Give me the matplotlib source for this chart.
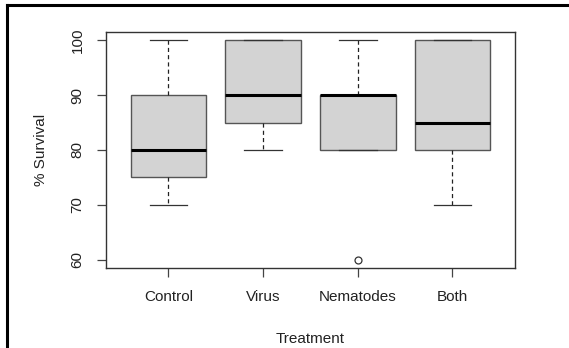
import matplotlib
matplotlib.use("Agg")
import matplotlib.pyplot as plt
from matplotlib.lines import Line2D

plt.rcParams['font.family'] = ['Liberation Sans', 'DejaVu Sans']

# box statistics
groups = ['Control', 'Virus', 'Nematodes', 'Both']
whislo = [70, 80, 80, 70]
q1 = [75, 85, 80, 80]
med = [80, 90, 90, 85]
q3 = [90, 100, 90, 100]
whishi = [100, 100, 100, 100]
fliers = [[], [], [60], []]
yticks = [60, 70, 80, 90, 100]

stats = []
for i in range(len(groups)):
    stats.append(dict(label=groups[i], whislo=whislo[i], q1=q1[i], med=med[i],
                      q3=q3[i], whishi=whishi[i], fliers=fliers[i]))

fig = plt.figure(figsize=(5.69, 3.48), dpi=100)
ax = fig.add_axes([0.1863, 0.229, 0.7187, 0.680])

ax.bxp(stats, positions=range(1, 5), widths=0.8, patch_artist=True,
       boxprops=dict(facecolor='#d3d3d3', edgecolor='#555555', linewidth=1.0),
       medianprops=dict(color='black', linewidth=2.2, solid_capstyle='butt'),
       whiskerprops=dict(color='#222222', linewidth=0.9, linestyle=(0, (3.3, 2.5))),
       capprops=dict(color='#333333', linewidth=0.9),
       capwidths=0.4,
       flierprops=dict(marker='o', markersize=5, markerfacecolor='none',
                       markeredgecolor='#333333', markeredgewidth=0.9))

ax.set_xlim(0.34, 4.66)
ax.set_ylim(58.4, 101.6)
ax.set_yticks(yticks)
ax.set_yticklabels([str(v) for v in yticks], rotation=90, va='center')
ax.set_xticks(range(1, 5))
ax.set_xticklabels(groups)
ax.tick_params(axis='both', length=6.5, width=0.9, color='#444444',
               labelsize=11, labelcolor='#222222', pad=9)
for s in ax.spines.values():
    s.set_color('#333333')
    s.set_linewidth(1.0)

ax.set_xlabel('Treatment', fontsize=11, color='#222222', labelpad=20)
ax.set_ylabel('% Survival', fontsize=11, color='#222222', labelpad=16)

# outer frame lines (top and left) like the reference screenshot
fig.add_artist(Line2D([0.0125, 1.0], [0.985, 0.985], color='black', linewidth=2.2,
                      transform=fig.transFigure))
fig.add_artist(Line2D([0.0125, 0.0125], [0.0, 0.985], color='black', linewidth=2.2,
                      transform=fig.transFigure))

fig.savefig('out.png', dpi=100)
